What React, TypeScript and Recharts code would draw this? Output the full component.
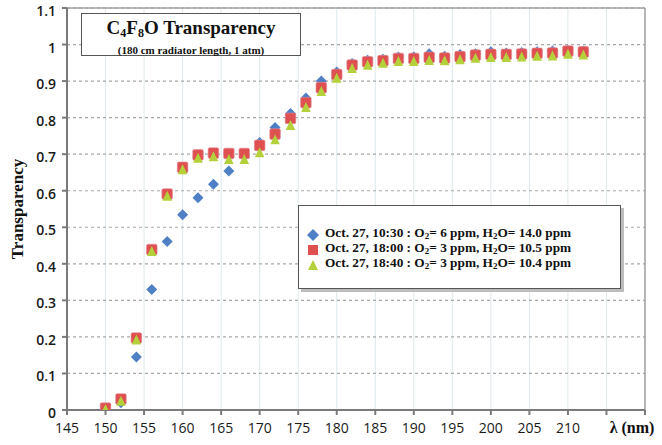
import React from 'react';
import { ScatterChart, Scatter, XAxis, YAxis, CartesianGrid, ReferenceLine } from 'recharts';

const wavelengths = [150, 152, 154, 156, 158, 160, 162, 164, 166, 168, 170, 172, 174, 176, 178, 180, 182, 184, 186, 188, 190, 192, 194, 196, 198, 200, 202, 204, 206, 208, 210, 212];
const seriesA = [0.0, 0.02, 0.145, 0.33, 0.461, 0.534, 0.581, 0.618, 0.654, 0.695, 0.732, 0.773, 0.811, 0.854, 0.9, 0.925, 0.948, 0.957, 0.96, 0.966, 0.966, 0.975, 0.968, 0.973, 0.975, 0.98, 0.977, 0.978, 0.98, 0.982, 0.984, 0.982];
const seriesB = [0.005, 0.03, 0.197, 0.439, 0.591, 0.664, 0.698, 0.703, 0.702, 0.702, 0.724, 0.755, 0.798, 0.841, 0.882, 0.918, 0.944, 0.953, 0.956, 0.962, 0.962, 0.965, 0.963, 0.967, 0.971, 0.973, 0.973, 0.974, 0.976, 0.977, 0.982, 0.98];
const seriesC = [0.003, 0.025, 0.193, 0.435, 0.586, 0.659, 0.69, 0.694, 0.687, 0.687, 0.705, 0.741, 0.78, 0.829, 0.873, 0.909, 0.936, 0.945, 0.95, 0.955, 0.955, 0.958, 0.957, 0.96, 0.964, 0.966, 0.966, 0.967, 0.969, 0.97, 0.975, 0.973];

const xTicks = [145, 150, 155, 160, 165, 170, 175, 180, 185, 190, 195, 200, 205, 210, 215, 220];
const yTicks = [0, 0.1, 0.2, 0.3, 0.4, 0.5, 0.6, 0.7, 0.8, 0.9, 1.0, 1.1];

const BLUE = '#4f80c6';
const RED = '#df5050';
const GREEN = '#b4d03a';

const toPoints = (vals: number[]) => wavelengths.map((w, i) => ({ x: w, y: vals[i] }));
const dataA = toPoints(seriesA);
const dataB = toPoints(seriesB);
const dataC = toPoints(seriesC);

const Diamond = (p: any) => {
  const { cx, cy } = p;
  const s = 5.5;
  return <polygon points={`${cx},${cy - s} ${cx + s},${cy} ${cx},${cy + s} ${cx - s},${cy}`} fill={BLUE} />;
};
const Square = (p: any) => {
  const { cx, cy } = p;
  return <rect x={cx - 5.3} y={cy - 5.3} width={10.6} height={10.6} rx={1.5} fill={RED} stroke="#e08a9a" strokeWidth={0.6} />;
};
const Triangle = (p: any) => {
  const { cx, cy } = p;
  return <polygon points={`${cx},${cy - 5} ${cx + 4.8},${cy + 5} ${cx - 4.8},${cy + 5}`} fill={GREEN} />;
};

const legendItems = [
  { key: 'a', shape: 'diamond', time: 'Oct. 27, 10:30', o2: '6', h2o: '14.0' },
  { key: 'b', shape: 'square', time: 'Oct. 27, 18:00', o2: '3', h2o: '10.5' },
  { key: 'c', shape: 'triangle', time: 'Oct. 27, 18:40', o2: '3', h2o: '10.4' },
];

const LegendIcon = ({ shape }: { shape: string }) => (
  <svg width={14} height={14} style={{ marginRight: 5, flex: 'none' }}>
    {shape === 'diamond' && <polygon points="7,1 13,7 7,13 1,7" fill={BLUE} />}
    {shape === 'square' && <rect x={2} y={2} width={10} height={10} fill={RED} />}
    {shape === 'triangle' && <polygon points="7,2 12,12 2,12" fill={GREEN} />}
  </svg>
);

const subStyle = { fontSize: 9, verticalAlign: '-2px' } as const;

const LegendBox = () => (
  <div style={{ position: 'absolute', left: 298, top: 205, width: 323, height: 84, boxSizing: 'border-box', border: '1.5px solid #555', background: '#fff', boxShadow: '3px 3px 0 #bdbdbd', padding: '21px 0 0 7px', fontFamily: '"Liberation Serif", serif', fontWeight: 'bold', fontSize: 13.3, color: '#111' }}>
    {legendItems.map((it) => (
      <div key={it.key} style={{ display: 'flex', alignItems: 'center', height: 15, lineHeight: '15px', whiteSpace: 'nowrap' }}>
        <LegendIcon shape={it.shape} />
        <span>
          {it.time} : O<sub style={subStyle}>2</sub>= {it.o2} ppm, H<sub style={subStyle}>2</sub>O= {it.h2o} ppm
        </span>
      </div>
    ))}
  </div>
);

const XTick = (props: any) => {
  const { x, y, payload } = props;
  const v = payload.value;
  if (v === 220) {
    return (
      <text x={x - 13} y={y - 1} dy="0.71em" textAnchor="middle" fontFamily='"Liberation Serif", serif' fontWeight="bold" fontSize={16} fill="#111">
        λ (nm)
      </text>
    );
  }
  if (v > 210) return <g />;
  return (
    <text x={x} y={y} dy="0.71em" textAnchor="middle" fontFamily='"Open Sans", sans-serif' fontSize={14} fill="#1a1a1a">
      {v}
    </text>
  );
};

const YTick = (props: any) => {
  const { x, y, payload } = props;
  const r = Math.round(payload.value * 10) / 10;
  return (
    <text x={x} y={y + 3} dy="0.355em" textAnchor="end" fontFamily='"Open Sans", sans-serif' fontSize={14} fontWeight={600} fill="#1a1a1a">
      {String(r)}
    </text>
  );
};

const YLabel = (props: any) => {
  const vb = props.viewBox || { x: 0, y: 7, width: 67, height: 403 };
  const cx = 17;
  const cy = vb.y + vb.height / 2;
  return (
    <text x={cx} y={cy} transform={`rotate(-90, ${cx}, ${cy})`} textAnchor="middle" dominantBaseline="central" fontFamily='"Liberation Serif", serif' fontWeight="bold" fontSize={17} fill="#111">
      Transparency
    </text>
  );
};

export default function App() {
  return (
    <div style={{ position: 'absolute', left: 0, top: 0, width: 662, height: 445, background: '#fff' }}>
      <ScatterChart width={662} height={445} margin={{ top: 8, right: 17, bottom: 5, left: 0 }}>
        <CartesianGrid horizontal={false} stroke="#dde8ec" strokeWidth={1} />
        <CartesianGrid vertical={false} stroke="#a8a8a8" strokeDasharray="3 3" strokeWidth={1.2} />
        <XAxis
          type="number"
          dataKey="x"
          domain={[145, 220]}
          ticks={xTicks}
          interval={0}
          height={30}
          tickSize={5}
          tickMargin={8}
          stroke="#7a7a7a"
          strokeWidth={2}
          tick={<XTick />}
          allowDataOverflow
        />
        <YAxis
          type="number"
          dataKey="y"
          domain={[0, 1.1]}
          ticks={yTicks}
          interval={0}
          width={67}
          tickSize={5}
          tickMargin={6}
          stroke="#7a7a7a"
          strokeWidth={2}
          tick={<YTick />}
          label={<YLabel />}
          allowDataOverflow
        />
        <ReferenceLine y={1.1} stroke="#a0a0a0" strokeWidth={1.5} ifOverflow="visible" />
        <ReferenceLine x={220} stroke="#a0a0a0" strokeWidth={1.5} ifOverflow="visible" />
        <Scatter name="a" data={dataA} shape={<Diamond />} isAnimationActive={false} />
        <Scatter name="b" data={dataB} shape={<Square />} isAnimationActive={false} />
        <Scatter name="c" data={dataC} shape={<Triangle />} isAnimationActive={false} />
      </ScatterChart>
      <LegendBox />
      <div style={{ position: 'absolute', left: 81, top: 13, width: 220, height: 43, boxSizing: 'border-box', border: '1.5px solid #555', background: '#fff', textAlign: 'center', fontFamily: '"Liberation Serif", serif', fontWeight: 'bold', color: '#111' }}>
        <div style={{ fontSize: 19, lineHeight: '22px', marginTop: 3 }}>
          C<sub style={{ fontSize: 12, verticalAlign: '-3px' }}>4</sub>F<sub style={{ fontSize: 12, verticalAlign: '-3px' }}>8</sub>O Transparency
        </div>
        <div style={{ fontSize: 11, lineHeight: '13px' }}>(180 cm radiator length, 1 atm)</div>
      </div>
    </div>
  );
}
